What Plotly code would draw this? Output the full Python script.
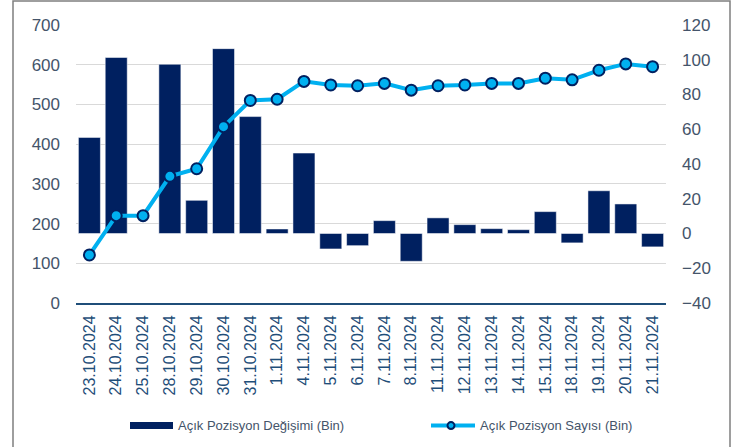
import plotly.graph_objects as go

dates = ["23.10.2024", "24.10.2024", "25.10.2024", "28.10.2024", "29.10.2024",
         "30.10.2024", "31.10.2024", "1.11.2024", "4.11.2024", "5.11.2024",
         "6.11.2024", "7.11.2024", "8.11.2024", "11.11.2024", "12.11.2024",
         "13.11.2024", "14.11.2024", "15.11.2024", "18.11.2024", "19.11.2024",
         "20.11.2024", "21.11.2024"]

degisim = [55.3, 101.3, 0.0, 97.4, 19.1, 106.4, 67.3, 2.6, 46.3, -8.9,
           -7.0, 7.4, -16.0, 9.0, 5.1, 2.8, 2.2, 12.6, -5.4, 24.6, 17.0, -7.7]

sayi = [121, 220, 220, 319, 338, 444, 510, 513, 558, 549,
        547, 553, 536, 547, 549, 553, 553, 566, 562, 586, 602, 595]

left_ticks = [0, 100, 200, 300, 400, 500, 600, 700]
right_ticks = [-40, -20, 0, 20, 40, 60, 80, 100, 120]

NAVY = "#002060"
CYAN = "#00B0F0"
TXT = "#44546A"
XTXT = "#1F4E79"
FONT = "Liberation Sans, Arial, sans-serif"

fig = go.Figure()
fig.add_trace(go.Bar(
    x=dates, y=degisim, yaxis="y", name="Açık Pozisyon Değişimi (Bin)",
    marker=dict(color=NAVY, line=dict(color="#FFFFFF", width=0.5)),
    showlegend=False,
))
fig.add_trace(go.Scatter(
    x=dates, y=sayi, yaxis="y2", mode="lines+markers",
    name="Açık Pozisyon Sayısı (Bin)",
    line=dict(color=CYAN, width=4),
    marker=dict(color=CYAN, size=11, line=dict(color=NAVY, width=2)),
    showlegend=False,
))

# plot area in px: x 76..666, y 25..303.3
L, R, T, B = 76, 666, 25, 303.3
W, H = R - L, B - T


def px(x):
    return (x - L) / W


def py(y):
    return (B - y) / H


shapes = [
    dict(type="rect", xref="paper", yref="paper", x0=px(13), x1=px(730),
         y0=py(470), y1=py(1), line=dict(color="#7F7F7F", width=1.5),
         fillcolor="rgba(0,0,0,0)", layer="below"),
    dict(type="rect", xref="paper", yref="paper", x0=px(130), x1=px(173),
         y0=py(429.5), y1=py(422.5), line=dict(width=0), fillcolor=NAVY),
    dict(type="line", xref="paper", yref="paper", x0=px(431), x1=px(475),
         y0=py(426), y1=py(426), line=dict(color=CYAN, width=4)),
    dict(type="circle", xref="paper", yref="paper", x0=px(447.5), x1=px(454.5),
         y0=py(429.5), y1=py(422.5), line=dict(color=NAVY, width=2),
         fillcolor=CYAN),
]

annotations = [
    dict(xref="paper", yref="paper", x=px(176), y=py(426), xanchor="left",
         yanchor="middle", showarrow=False, text="Açık Pozisyon Değişimi (Bin)",
         font=dict(family=FONT, size=13, color=TXT)),
    dict(xref="paper", yref="paper", x=px(478), y=py(426), xanchor="left",
         yanchor="middle", showarrow=False, text="Açık Pozisyon Sayısı (Bin)",
         font=dict(family=FONT, size=13, color=TXT)),
]

fig.update_layout(
    width=743, height=447,
    margin=dict(l=L, r=743 - R, t=T, b=447 - B, autoexpand=False),
    paper_bgcolor="white", plot_bgcolor="white",
    bargap=0.18,
    hovermode=False,
    font=dict(family=FONT, color=TXT),
    xaxis=dict(
        type="category", tickangle=-90, showgrid=False, automargin=False,
        range=[-0.5, len(dates) - 0.5],
        showline=True, linecolor="#1F4E79", linewidth=2,
        tickfont=dict(family=FONT, size=16, color=XTXT),
        ticks="", ticklabelstandoff=4,
    ),
    yaxis=dict(
        side="right", range=[-40, 120], tickvals=right_ticks, automargin=False,
        showgrid=False, zeroline=False, showline=False, ticks="",
        tickfont=dict(family=FONT, size=17, color=TXT),
        ticklabelstandoff=15,
    ),
    yaxis2=dict(
        side="left", overlaying="y", range=[0, 700], tickvals=left_ticks,
        automargin=False,
        showgrid=True, gridcolor="#D9D9D9", gridwidth=1, zeroline=False,
        showline=False, ticks="",
        tickfont=dict(family=FONT, size=17, color=TXT),
        ticklabelstandoff=15,
    ),
    shapes=shapes,
    annotations=annotations,
)

fig.write_html("out.html", config={"displayModeBar": False},
               post_script="document.body.style.margin='0px';")
